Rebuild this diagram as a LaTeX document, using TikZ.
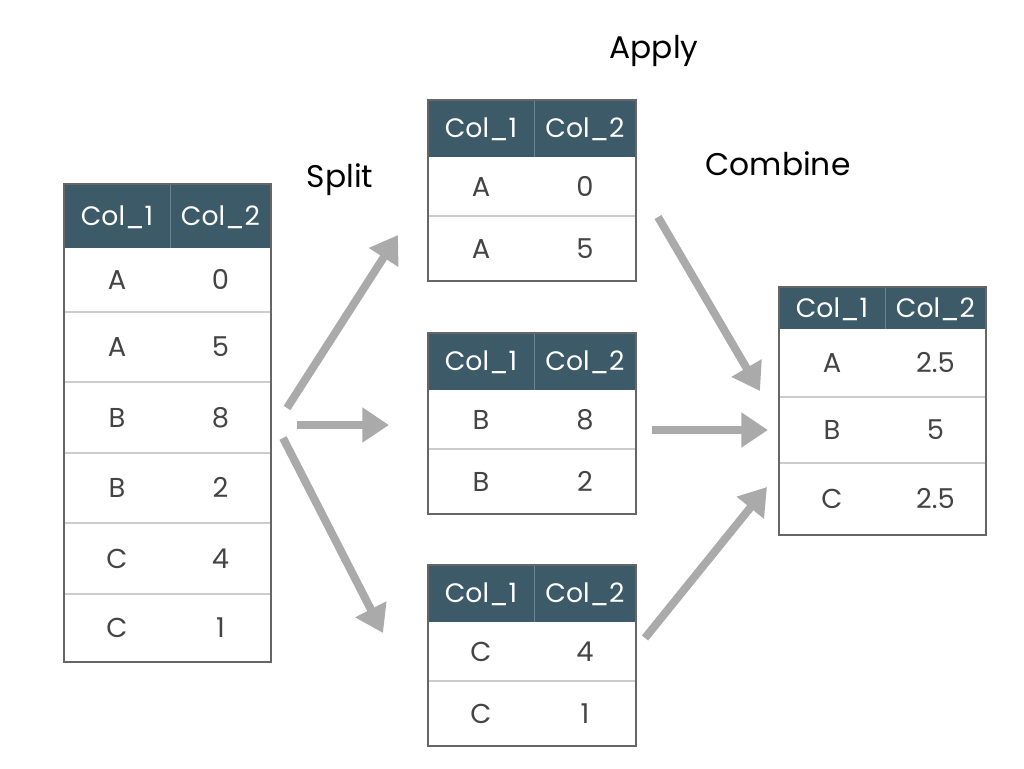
\documentclass[tikz,border=0pt]{standalone}
\usepackage{fontspec}
\setmainfont{Poppins}
\usetikzlibrary{arrows.meta}
\definecolor{hdrc}{HTML}{3D5A68}
\definecolor{hdrdivc}{HTML}{6A8490}
\definecolor{celltxt}{HTML}{444444}
\definecolor{sepc}{HTML}{CCCCCC}
\definecolor{edgec}{HTML}{666666}
\definecolor{arrc}{HTML}{AAAAAA}
\tikzset{
  hcell/.style={inner sep=0pt, text height=14pt, text depth=0pt, text=white, font=\fontsize{20pt}{24pt}\selectfont},
  dcell/.style={inner sep=0pt, text height=14.5pt, text depth=0pt, text=celltxt, font=\fontsize{20.5pt}{24pt}\selectfont},
  lbl/.style={inner sep=0pt, text height=16.4pt, text depth=0pt, text=black, font=\fontsize{23.5pt}{28pt}\selectfont},
  sepline/.style={draw=sepc, line width=1.5pt},
  hdrdiv/.style={draw=hdrdivc, line width=0.6pt},
  outline/.style={draw=edgec, line width=0.8pt},
  arr/.style={draw=arrc, line width=6pt, -{Triangle[length=20pt,width=25pt]}},
}
\newcommand\thead[6]{%
  \fill[hdrc] (#2,#5) rectangle (#4,#6);
  \draw[hdrdiv] (#3,#5) -- (#3,#6);
  \node[hcell] (#1h1) at ({(#2+#3)/2},{(#5+#6)/2}) {Col\_1};
  \node[hcell] (#1h2) at ({(#3+#4)/2},{(#5+#6)/2}) {Col\_2};
}
\newcommand\trow[9]{%
  \draw[sepline] (#3,#7) -- (#5,#7);
  \node[dcell] (#1#2a) at ({(#3+#4)/2},{(#6+#7)/2}) {#8};
  \node[dcell] (#1#2b) at ({(#4+#5)/2},{(#6+#7)/2}) {#9};
}
\begin{document}
\begin{tikzpicture}[x=0.75pt,y=-0.75pt]
\useasboundingbox[fill=white] (0,0) rectangle (1024,768);
% Left table
\thead{L}{64}{170}{271}{184}{248}
\trow{L}{1}{64}{170}{271}{248}{312}{A}{0}
\trow{L}{2}{64}{170}{271}{312}{382}{A}{5}
\trow{L}{3}{64}{170}{271}{382}{453}{B}{8}
\trow{L}{4}{64}{170}{271}{453}{523}{B}{2}
\trow{L}{5}{64}{170}{271}{523}{594}{C}{4}
\trow{L}{6}{64}{170}{271}{594}{662}{C}{1}
\draw[outline] (64,184) rectangle (271,662);
% Top middle table
\thead{T}{428}{534}{636}{100}{157}
\trow{T}{1}{428}{534}{636}{157}{216}{A}{0}
\trow{T}{2}{428}{534}{636}{216}{281}{A}{5}
\draw[outline] (428,100) rectangle (636,281);
% Middle table
\thead{M}{428}{534}{636}{333}{390}
\trow{M}{1}{428}{534}{636}{390}{449}{B}{8}
\trow{M}{2}{428}{534}{636}{449}{514}{B}{2}
\draw[outline] (428,333) rectangle (636,514);
% Bottom table
\thead{B}{428}{534}{636}{565}{622}
\trow{B}{1}{428}{534}{636}{622}{681}{C}{4}
\trow{B}{2}{428}{534}{636}{681}{746}{C}{1}
\draw[outline] (428,565) rectangle (636,746);
% Result table
\thead{R}{779}{885}{986}{287}{329}
\trow{R}{1}{779}{885}{986}{329}{397}{A}{2.5}
\trow{R}{2}{779}{885}{986}{397}{463}{B}{5}
\trow{R}{3}{779}{885}{986}{463}{535}{C}{2.5}
\draw[outline] (779,287) rectangle (986,535);
% Labels
\node[lbl] (apply) at (654,48) {Apply};
\node[lbl] (split) at (340,177) {Split};
\node[lbl] (combine) at (778,165) {Combine};
% Arrow end points
\coordinate (s1) at (287,408); \coordinate (e1) at (398,235);
\coordinate (s2) at (297,425); \coordinate (e2) at (389,425);
\coordinate (s3) at (283,438); \coordinate (e3) at (383,633);
\coordinate (c1) at (658,217); \coordinate (f1) at (760,391);
\coordinate (c2) at (652,430); \coordinate (f2) at (768,430);
\coordinate (c3) at (645,638); \coordinate (f3) at (767,487);
\draw[arr] (s1) -- (e1);
\draw[arr] (s2) -- (e2);
\draw[arr] (s3) -- (e3);
\draw[arr] (c1) -- (f1);
\draw[arr] (c2) -- (f2);
\draw[arr] (c3) -- (f3);
\end{tikzpicture}
\end{document}
